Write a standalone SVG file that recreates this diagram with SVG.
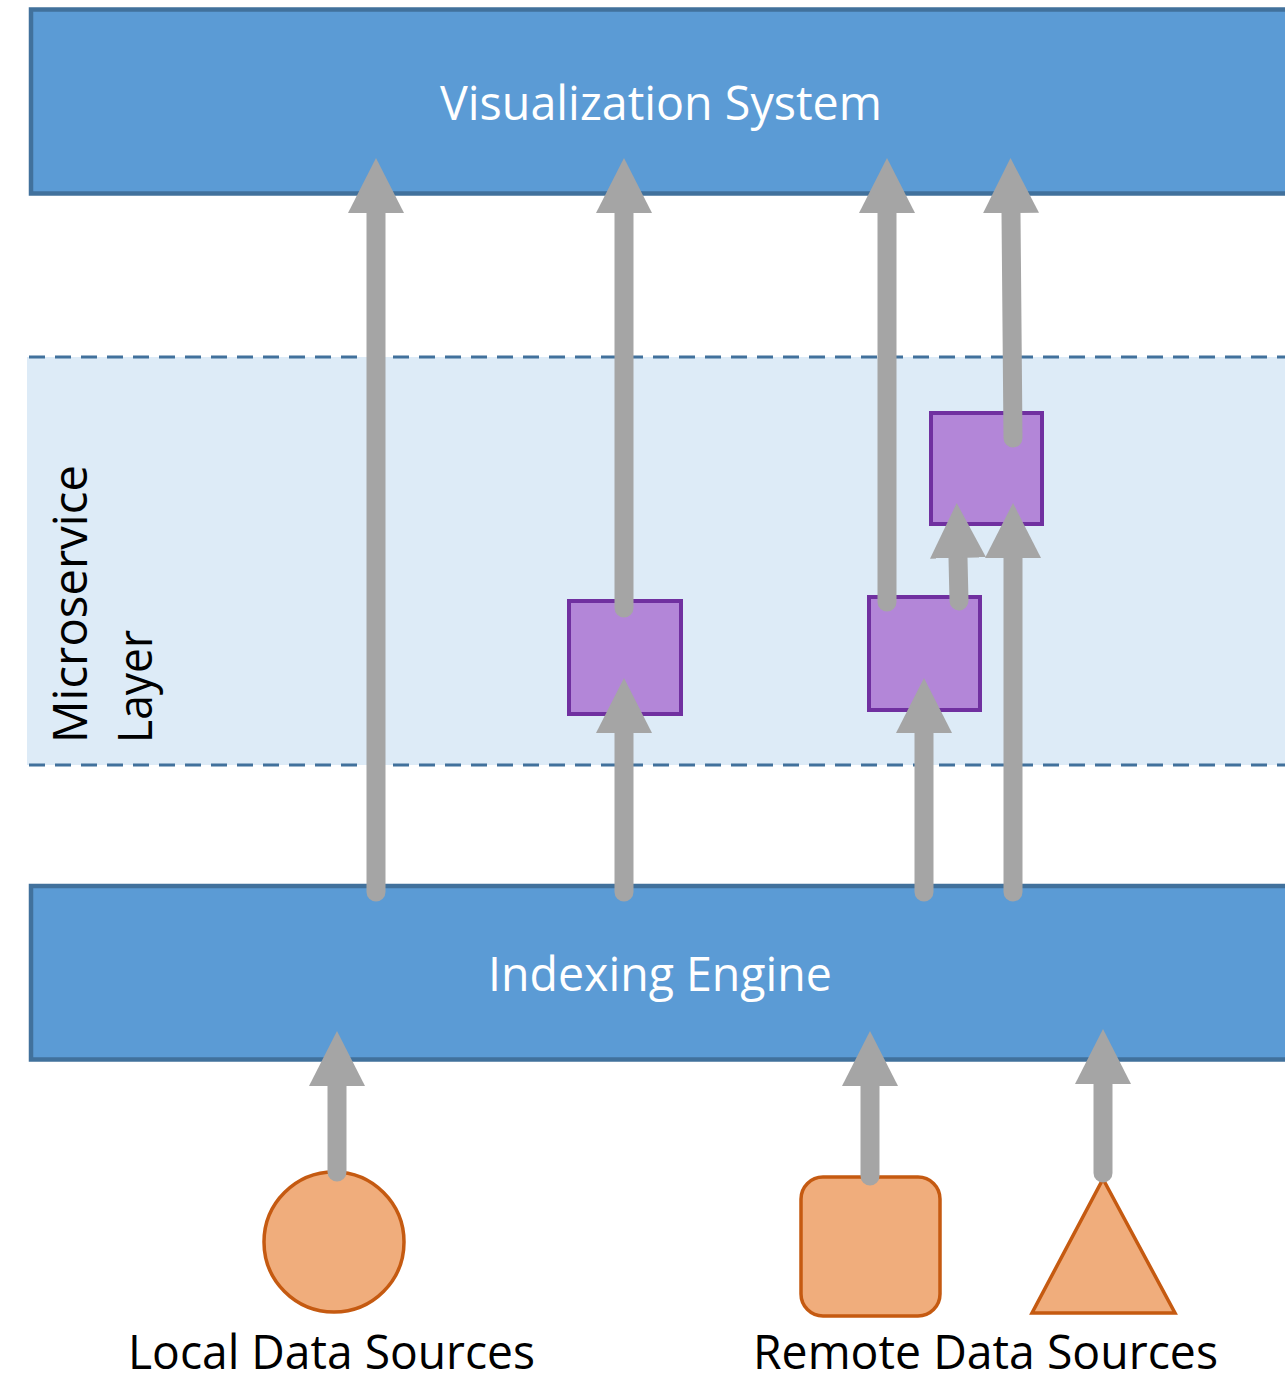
<svg xmlns="http://www.w3.org/2000/svg" width="1285" height="1374" viewBox="0 0 1285 1374">
<defs>
<style>
.bar{fill:#5B9BD5;stroke:#41719C;stroke-width:4.5}
.svc{fill:#B386D8;stroke:#7030A0;stroke-width:4}
.src{fill:#F0AD7C;stroke:#C55A11;stroke-width:3.5}
.dash{stroke:#41719C;stroke-width:3;stroke-dasharray:16 10;fill:none}
.lbl{font-family:"Open Sans","Liberation Sans",sans-serif;font-size:47px}
.wt{fill:#FFFFFF}
.bk{fill:#000000}
.arr{stroke:#A5A5A5;stroke-width:19;stroke-linecap:round;fill:none;marker-end:url(#head)}
</style>
<marker id="head" markerUnits="userSpaceOnUse" markerWidth="56" markerHeight="56" refX="0" refY="28" orient="auto" viewBox="0 0 56 56">
<path d="M0,0 L55,28 L0,56 Z" fill="#A5A5A5"/>
</marker>
</defs>
<rect width="1285" height="1374" fill="#FFFFFF"/>
<g id="microservice-layer">
<rect x="27" y="357" width="1270" height="408" fill="#DDEBF7"/>
<line class="dash" x1="29" y1="357" x2="1285" y2="357"/>
<line class="dash" x1="29" y1="765" x2="1285" y2="765"/>
<text class="lbl bk" transform="translate(87,743) rotate(-90)"><tspan x="0" y="0" textLength="278" lengthAdjust="spacingAndGlyphs">Microservice</tspan><tspan x="0" y="65" textLength="113" lengthAdjust="spacingAndGlyphs">Layer</tspan></text>
</g>
<g id="visualization-system">
<rect class="bar" x="31" y="9.5" width="1270" height="184"/>
<text class="lbl wt" x="661" y="120" text-anchor="middle" textLength="442" lengthAdjust="spacingAndGlyphs">Visualization System</text>
</g>
<g id="indexing-engine">
<rect class="bar" x="31" y="886" width="1270" height="173.5"/>
<text class="lbl wt" x="660" y="991" text-anchor="middle" textLength="344" lengthAdjust="spacingAndGlyphs">Indexing Engine</text>
</g>
<g id="service-1"><rect class="svc" x="569" y="601" width="112" height="113"/></g>
<g id="service-2"><rect class="svc" x="869" y="597" width="111" height="113"/></g>
<g id="service-3"><rect class="svc" x="931" y="413" width="111" height="111"/></g>
<g id="local-source"><circle class="src" cx="334" cy="1242" r="70"/></g>
<g id="remote-source-1"><rect class="src" x="801" y="1177" width="139" height="139" rx="22"/></g>
<g id="remote-source-2"><polygon class="src" points="1103,1179 1175,1313 1032,1313"/></g>
<g id="connectors">
<path class="arr" d="M376,892 L376,213"/>
<path class="arr" d="M624,608 L624,213"/>
<path class="arr" d="M624,892 L624,733"/>
<path class="arr" d="M887,602 L887,213"/>
<path class="arr" d="M1013,438 L1011,213"/>
<path class="arr" d="M959,601 L958,558"/>
<path class="arr" d="M924,892 L924,733"/>
<path class="arr" d="M1013,892 L1013,558"/>
<path class="arr" d="M337,1172 L337,1086"/>
<path class="arr" d="M870,1176 L870,1086"/>
<path class="arr" d="M1103,1173 L1103,1084"/>
</g>
<g id="labels">
<text class="lbl bk" x="331.5" y="1369" text-anchor="middle" textLength="407" lengthAdjust="spacingAndGlyphs">Local Data Sources</text>
<text class="lbl bk" x="985.5" y="1369" text-anchor="middle" textLength="465" lengthAdjust="spacingAndGlyphs">Remote Data Sources</text>
</g>
</svg>
